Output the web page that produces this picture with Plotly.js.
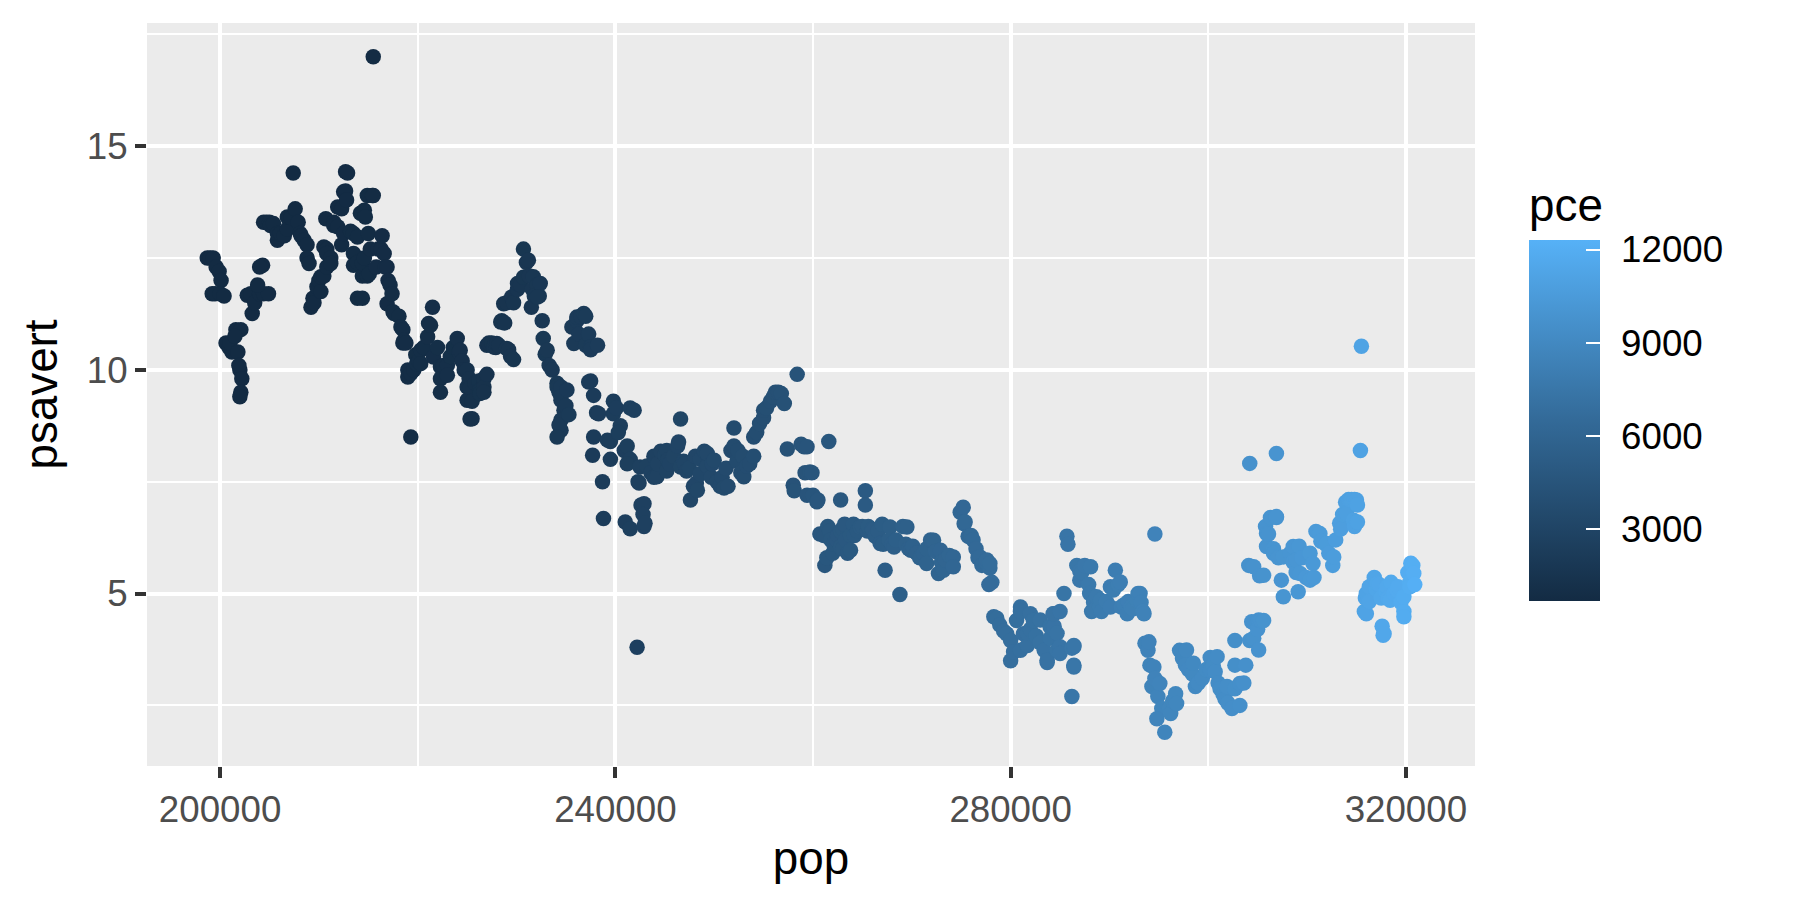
<!DOCTYPE html>
<html><head><meta charset="utf-8">
<script src="https://cdn.plot.ly/plotly-3.0.1.min.js"></script>
<style>html,body{margin:0;padding:0;background:#fff}#chart{width:1800px;height:900px}</style>
</head><body><div id="chart"></div>
<script>
// Values: population (pop), personal savings rate (psavert), consumption (pce)
const pop = [
198700,199000,199300,199600,199900,200100,199200,199500,200000,200400,200600,200900,201200,201000,201600,202100,201800,201500,202000,201900,202200,202100,202000,
202750,203100,203250,203500,204000,204400,204900,204300,204000,203800,204400,204700,205000,205100,205400,205800,205800,206100,206500,206800,206800,207200,207600,207400,207900,208100,208200,208500,208800,208800,209000,
209200,209400,209500,209800,210000,210200,210200,210500,210500,210800,210800,210800,211200,211200,210700,211500,211500,211900,211900,212300,212300,212500,212500,212700,212700,212900,212800,213200,213500,213500,213500,213900,213900,213900,214200,214400,214400,214400,214600,214600,214700,214900,214900,215000,215100,215200,215400,215500,215500,215800,216000,216300,216400,216600,216700,216900,
216900,217000,217200,217400,217500,217600,218100,218300,218500,218500,218600,218800,219000,219000,219300,219300,219600,219800,219900,220100,220300,220300,220600,221000,221100,221300,221500,221600,222000,222300,222300,222300,222600,
223000,223000,223300,223600,224000,224200,224300,224500,224700,225000,225000,225200,225000,225300,225500,225300,225500,225800,226200,226300,226300,226700,226700,226700,227000,227000,227200,227500,227700,227900,228000,228200,228400,228500,228700,228800,229000,229200,229400,229700,
229000,229500,229700,230100,230100,230400,230700,230700,231000,231200,231300,231600,231700,232100,231800,232300,232400,231500,232100,232600,232700,232900,233100,233300,233600,234100,234100,234300,234500,234500,234500,234800,234500,234500,234300,234100,235000,235100,235300,235600,235800,236100,236100,236500,236300,236800,237000,237000,237300,237300,237500,237500,237500,237800,237800,237700,238200,238100,238300,
238700,238800,239200,239500,239500,239800,239800,240100,240500,240300,240900,241200,241500,241500,241200,241900,241000,241500,242200,242300,242400,242500,242600,242900,242800,242900,243000,243200,243600,243900,243900,244200,244300,244600,245000,245200,245200,245300,245500,245900,246300,246600,246400,246600,246900,
247000,247200,247500,247600,247900,248200,248100,248300,248600,248600,249000,249300,249300,249700,249800,250000,250300,250600,250800,251000,251200,251400,251700,252000,252000,252300,252400,252700,252900,253000,253300,253600,254000,254000,254300,254600,255000,255000,255300,255700,256000,256200,256500,256800,257100,257400,258000,258100,258400,258800,259100,259400,259200,259400,259700,259900,260000,260400,260500,
260700,261100,261200,261400,261500,261600,261700,261800,262000,262100,262400,262500,262800,262800,262800,263000,263000,263200,263300,263500,263800,263800,264100,264200,264500,264800,265000,265300,265300,265500,265600,266000,266100,266300,266600,266800,267000,267100,267300,267700,267800,268000,268200,268400,268800,
269100,269400,269500,269700,269900,270100,270500,270800,270900,271200,271500,271500,271900,272200,272400,272700,272900,273000,273200,273400,273800,274200,274200,274900,275200,275300,275400,275700,275900,276000,276200,276500,276700,276900,277100,277500,277600,277900,277900,278100,277800,278300,278600,278900,279300,279600,280000,280000,280300,280600,281000,281300,281000,
281000,281700,281700,282000,282000,282300,282600,283000,283000,283400,283700,283700,284000,284000,284400,284400,284300,284700,284700,285000,285000,285000,285400,285700,285800,286200,286400,286400,286400,286200,286400,286700,287000,287000,287200,287500,287900,288100,288200,288000,288400,288400,288700,289000,289100,289200,289700,290100,290100,290400,290600,290900,291100,291200,291500,291800,291900,292200,292400,292800,292900,293100,293200,293400,293500,293600,293900,294000,294100,294300,294500,294600,294600,294900,295100,295300,294800,295600,296100,296200,296400,296700,296800,
297100,297400,297700,297800,298000,298400,298500,298700,299000,299400,299800,300200,300200,300500,300700,300900,301000,301200,301500,301700,301900,302000,302400,302700,302700,302700,303200,303200,303600,303800,304200,
304200,304100,304400,304600,305000,305100,305100,304600,305200,305600,305300,305600,305800,305900,305900,306300,306900,306900,306100,306600,306600,306900,307100,307600,307600,307400,308300,308600,308600,308900,308900,309100,309200,309300,309500,309900,310300,310300,310600,310700,310900,311300,311400,311900,312000,312200,312600,312700,312900,313300,313400,313600,313900,314000,314200,314400,314500,314700,314800,315000,315100,314800,315100,315400,315500,
315800,315900,316000,316000,316300,316300,316800,317000,317100,317300,317500,317600,317700,317800,318000,318100,318200,318400,318500,318800,319100,319200,319500,319800,319800,319800,320200,320400,320400,320500,320700,320800,320900
];
const psavert = [
12.5,12.5,12.5,12.3,12.2,12.0,11.7,11.7,11.7,11.65,10.6,10.5,10.4,10.6,10.9,10.9,10.4,10.75,10.0,10.1,9.8,9.5,9.4,
11.67,11.7,11.26,11.5,11.7,11.7,11.7,12.34,12.3,11.9,13.3,13.3,13.3,13.23,13.27,12.9,13.05,13.05,13.0,13.15,13.42,13.4,13.6,14.4,13.3,13.05,13.0,12.9,12.8,12.5,12.38,
11.4,11.6,11.5,11.86,12.0,11.75,12.08,12.1,12.75,12.3,12.7,12.6,12.5,12.38,13.38,13.3,13.23,13.2,13.64,12.8,13.6,13.98,13.05,14.0,14.43,14.4,13.8,13.1,13.05,12.6,12.34,12.4,12.97,11.6,13.5,12.1,11.6,12.38,12.5,13.57,13.42,13.9,12.1,13.05,12.15,12.7,13.9,13.9,17.0,12.3,12.7,12.7,13.0,12.6,12.3,12.3,
11.48,12.0,11.9,11.7,11.3,11.26,11.2,10.96,10.9,10.6,10.66,10.6,10.0,9.84,9.92,8.5,10.0,10.34,10.14,10.2,10.44,10.14,10.5,10.74,11.04,11.0,11.4,10.29,10.5,10.07,9.8,9.5,10.1,
10.1,9.88,10.3,10.5,10.7,10.4,10.44,10.2,10.0,10.0,9.62,9.8,9.32,9.6,9.3,8.9,8.91,9.7,9.75,9.55,9.47,9.8,9.62,9.5,9.9,10.55,10.6,10.6,10.51,10.5,10.59,10.55,11.07,11.1,11.48,11.05,10.48,10.45,10.3,10.23,
11.5,11.63,11.5,11.8,11.93,11.9,12.07,12.7,12.4,12.45,12.1,11.8,12.08,11.9,11.65,11.65,11.93,11.4,11.63,11.1,10.7,10.35,10.44,10.1,10.0,9.7,9.62,9.5,9.32,9.62,9.4,9.1,8.88,8.65,8.77,8.5,9.2,9.55,9.0,10.96,10.59,11.1,11.18,11.2,10.8,11.26,10.55,11.2,10.8,9.73,10.51,10.45,9.75,9.43,8.5,8.09,10.55,9.04,9.02,
7.5,6.68,8.43,8.4,8.0,9.3,9.02,9.15,8.75,8.6,8.2,8.3,9.15,8.0,7.9,9.1,6.6,6.45,3.8,7.5,7.47,7.83,6.98,7.01,6.77,6.5,6.57,7.85,7.7,8.07,7.6,7.61,7.9,8.18,8.1,7.74,8.2,7.98,7.9,8.07,8.3,8.9,8.39,7.83,7.96,
7.9,7.74,7.8,7.09,7.4,7.47,8.07,7.31,8.0,7.68,8.18,7.85,8.13,7.6,7.9,7.98,7.5,7.4,7.6,7.36,7.8,7.4,8.2,8.7,8.3,7.96,8.2,7.7,8.07,7.61,7.85,7.9,8.07,8.5,8.6,8.8,8.93,9.1,9.15,9.3,9.4,9.5,9.5,9.47,9.25,8.23,7.42,7.3,9.9,8.34,8.28,8.28,7.7,7.2,7.72,7.7,7.2,7.05,7.09,
6.33,6.3,5.63,5.8,6.5,8.4,6.4,6.2,5.9,6.1,6.2,6.3,7.09,6.4,6.04,6.0,6.45,6.55,6.2,5.9,6.3,5.97,6.55,6.3,6.4,6.49,6.5,7.3,6.98,6.4,6.5,6.44,6.42,6.28,6.4,6.12,6.55,6.1,5.52,6.2,6.49,6.1,6.04,6.2,4.98,
6.5,6.1,6.49,6.0,5.97,6.06,5.9,5.8,5.82,5.9,6.0,5.67,6.2,6.19,5.94,5.45,5.97,5.7,5.52,5.75,5.85,5.82,5.6,6.82,6.93,6.56,6.6,6.28,6.27,6.3,6.2,6.0,5.8,5.82,5.63,5.7,5.75,5.57,5.67,5.25,5.2,4.48,4.45,4.3,4.16,4.1,3.95,3.5,3.7,4.4,4.7,4.1,4.6,
3.73,3.84,4.11,4.2,4.55,4.4,4.05,3.9,4.41,3.73,3.46,3.51,4.0,4.26,4.55,4.27,4.55,3.73,4.11,4.6,3.81,3.66,5.0,6.28,6.1,3.78,3.4,3.81,3.36,2.7,3.84,5.63,5.5,5.3,5.47,5.63,5.2,5.6,4.6,5.0,4.8,4.63,4.93,4.7,4.85,4.6,4.82,5.15,4.7,5.08,5.52,5.2,5.26,4.7,4.75,4.55,4.82,4.7,4.66,4.85,5.0,5.0,4.8,4.6,4.55,3.89,3.73,3.92,3.4,2.92,3.36,6.33,3.1,2.7,2.99,2.43,2.2,1.9,2.43,2.32,2.6,2.76,2.54,
3.73,3.55,3.4,3.74,3.3,3.2,3.44,2.92,3.0,3.1,3.3,3.57,3.29,3.4,3.25,3.59,3.0,2.87,2.75,2.65,2.92,2.55,2.43,2.87,3.4,3.95,2.5,2.99,3.0,3.4,3.95,
7.91,5.63,4.37,4.0,4.2,4.41,3.74,5.6,5.4,5.41,4.4,4.4,6.5,6.34,6.05,6.7,6.7,6.72,6.33,6.0,5.9,8.13,5.8,4.93,5.82,5.3,5.9,5.7,6.05,5.47,5.75,5.04,6.06,5.45,5.8,5.36,5.9,5.3,5.67,5.36,6.39,6.34,6.17,6.1,6.12,5.9,5.63,5.82,6.2,6.57,6.44,6.77,7.04,6.79,7.1,7.09,7.1,6.64,7.1,7.09,6.98,6.5,6.6,8.2,10.53,
4.6,4.9,5.0,4.55,5.15,4.82,5.36,5.1,5.22,5.2,4.9,4.27,4.07,4.1,5.04,5.15,4.9,4.85,5.25,5.0,5.08,5.15,4.8,4.6,4.93,4.48,5.47,5.25,5.15,5.68,5.63,5.45,5.2
];
const pce = [
507,510,515,520,525,528,512,518,526,532,535,540,545,542,550,556,553,548,555,554,558,557,555,
562,565,567,570,575,580,586,580,576,574,582,585,590,592,596,602,602,606,612,618,618,624,630,628,634,638,640,645,650,650,652,
655,658,660,664,668,672,672,676,676,682,682,682,690,690,684,698,698,705,705,712,712,716,716,720,720,725,723,732,738,738,738,746,746,746,752,756,756,756,760,760,762,766,766,768,770,772,776,778,778,784,788,794,796,800,804,808,
810,815,820,826,830,834,850,858,866,866,870,878,886,886,896,896,908,916,920,928,936,936,950,968,972,980,990,995,1012,1028,1028,1028,1042,
1080,1082,1100,1115,1140,1150,1155,1165,1185,1200,1200,1215,1200,1222,1235,1222,1235,1255,1285,1290,1290,1320,1320,1320,1345,1345,1360,1385,1400,1415,1420,1440,1455,1465,1480,1490,1510,1525,1545,1570,
1505,1540,1570,1610,1610,1640,1665,1665,1690,1705,1715,1740,1745,1785,1760,1800,1810,1730,1785,1825,1835,1850,1865,1880,1905,1945,1945,1960,1975,1975,1975,2000,1975,1975,1960,1945,2010,2018,2030,2055,2065,2085,2085,2110,2100,2125,2140,2140,2160,2160,2175,2175,2175,2195,2195,2188,2225,2218,2232,
2260,2270,2300,2330,2330,2355,2355,2380,2420,2400,2450,2480,2510,2510,2480,2530,2460,2510,2570,2580,2590,2600,2610,2640,2630,2640,2650,2670,2710,2745,2745,2770,2790,2820,2865,2885,2885,2895,2920,2965,3005,3040,3020,3040,3070,
3080,3100,3130,3140,3175,3210,3200,3220,3255,3255,3300,3330,3330,3375,3385,3410,3440,3470,3490,3510,3530,3550,3580,3610,3610,3640,3650,3680,3700,3710,3740,3770,3810,3810,3840,3880,3920,3920,3960,4010,4050,4090,4120,4160,4200,4240,4320,4330,4370,4420,4460,4500,4475,4500,4540,4560,4570,4610,4620,
4640,4670,4680,4700,4710,4720,4725,4730,4745,4750,4770,4780,4800,4800,4800,4810,4810,4825,4835,4850,4880,4880,4910,4920,4950,4980,5000,5040,5040,5060,5080,5130,5140,5170,5210,5230,5260,5270,5300,5350,5360,5390,5420,5440,5490,
5530,5560,5570,5590,5610,5640,5690,5730,5740,5780,5820,5820,5870,5900,5930,5960,5985,6000,6025,6050,6090,6130,6130,6220,6260,6270,6290,6330,6355,6370,6400,6440,6470,6495,6520,6570,6580,6620,6620,6650,6610,6680,6700,6730,6770,6790,6820,6820,6850,6870,6900,6930,6900,
6900,6960,6960,6990,6990,7030,7060,7110,7110,7150,7180,7180,7220,7220,7270,7270,7260,7300,7300,7330,7330,7330,7380,7420,7430,7470,7500,7500,7500,7470,7500,7540,7580,7580,7610,7650,7700,7730,7740,7720,7770,7770,7810,7850,7865,7880,7950,8000,8000,8040,8070,8110,8140,8150,8190,8230,8240,8280,8300,8350,8360,8390,8400,8430,8440,8450,8490,8500,8510,8540,8570,8580,8580,8620,8645,8670,8610,8700,8760,8770,8790,8830,8840,
8870,8900,8940,8950,8980,9020,9030,9060,9100,9140,9180,9230,9230,9270,9290,9310,9320,9350,9380,9400,9420,9430,9470,9500,9500,9500,9560,9560,9610,9640,9690,
9690,9700,9720,9740,9780,9790,9790,9740,9800,9830,9810,9830,9850,9860,9860,9880,9920,9920,9870,9900,9900,9920,9940,9980,9980,9960,10050,10090,10090,10130,10130,10160,10170,10180,10210,10260,10320,10320,10360,10380,10410,10470,10480,10550,10560,10600,10650,10670,10700,10760,10780,10810,10860,10870,10910,10940,10960,10990,11010,11040,11060,11010,11060,11110,11130,
11150,11180,11200,11200,11260,11260,11340,11380,11400,11430,11470,11490,11500,11520,11560,11575,11590,11620,11640,11690,11740,11760,11810,11860,11860,11860,11930,11970,11970,11990,12030,12080,12160
];
const xTicks = [200000, 240000, 280000, 320000];
const yTicks = [5, 10, 15];
const pceTicks = [3000, 6000, 9000, 12000];

const FONT = 'Liberation Sans, Arial, sans-serif';
const trace = {
  type: 'scatter', mode: 'markers', x: pop, y: psavert,
  marker: {
    size: 15.5, color: pce, cmin: 680, cmax: 12310,
    colorscale: [[0, '#132B43'], [0.5, '#336A98'], [1, '#56B1F7']],
    line: {width: 0},
    colorbar: {
      title: {text: 'pce', side: 'top', font: {size: 45.8, color: '#000', family: FONT}},
      thickness: 71, thicknessmode: 'pixels', len: 417, lenmode: 'pixels',
      x: 1.0407, xanchor: 'left', y: 0.5027, yanchor: 'middle', xpad: 0, ypad: 0,
      outlinewidth: 0, tickmode: 'array', tickvals: pceTicks,
      ticktext: pceTicks.map(v => '\u00A0\u200A' + v),
      ticks: 'inside', ticklen: 14, tickwidth: 2, tickcolor: '#ffffff',
      tickfont: {size: 36.7, color: '#000', family: FONT}
    }
  },
  showlegend: false, hoverinfo: 'skip'
};
const axisCommon = {
  showgrid: true, gridcolor: '#ffffff', gridwidth: 4, zeroline: false, showline: false,
  ticks: 'outside', ticklen: 11, tickwidth: 4, tickcolor: '#333333',
  tickfont: {size: 36.7, color: '#4D4D4D', family: FONT}, automargin: false
};
const layout = {
  width: 1800, height: 900,
  margin: {l: 147, r: 325, t: 23, b: 134},
  paper_bgcolor: '#ffffff', plot_bgcolor: '#EBEBEB',
  font: {family: FONT},
  xaxis: Object.assign({}, axisCommon, {
    range: [192603, 326996], tickmode: 'array', tickvals: xTicks, ticktext: xTicks.map(String),
    minor: {tickmode: 'array', tickvals: [220000, 260000, 300000], showgrid: true, gridcolor: '#ffffff', gridwidth: 2, ticks: ''},
    title: {text: 'pop', font: {size: 45.8, color: '#000', family: FONT}, standoff: 12}
  }),
  yaxis: Object.assign({}, axisCommon, {
    range: [1.145, 17.755], tickmode: 'array', tickvals: yTicks, ticktext: yTicks.map(String),
    minor: {tickmode: 'array', tickvals: [2.5, 7.5, 12.5, 17.5], showgrid: true, gridcolor: '#ffffff', gridwidth: 2, ticks: ''},
    title: {text: 'psavert', font: {size: 45.8, color: '#000', family: FONT}, standoff: 14}
  })
};
Plotly.newPlot('chart', [trace], layout, {displayModeBar: false, staticPlot: true});
</script>
</body></html>
